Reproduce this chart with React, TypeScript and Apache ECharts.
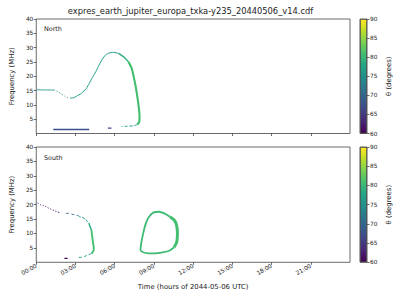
import React, { useEffect, useRef } from "react";
import * as echarts from "echarts";

const TITLE = "expres_earth_jupiter_europa_txka-y235_20440506_v14.cdf";
const X_LABEL = "Time (hours of 2044-05-06 UTC)";
const Y_LABEL = "Frequency (MHz)";
const CBAR_LABEL = "θ (degrees)";
const PANEL_NAMES = ["North", "South"];

const HOUR_TICKS = [0, 3, 6, 9, 12, 15, 18, 21];
const FREQ_TICKS = [5, 10, 15, 20, 25, 30, 35, 40];
const THETA_MIN = 60;
const THETA_MAX = 90;

// North hemisphere: [hour, frequency MHz]
const northFlat = [[0, 15.3], [0.7, 15.2], [1.35, 15.2]];
const northDots = [[1.35, 15.2], [1.55, 14.8], [1.73, 14.35], [1.93, 13.75], [2.18, 13.05], [2.42, 12.46], [2.63, 12.35]];
const northRise = [[2.63, 12.35], [2.85, 12.5], [3.08, 13.05], [3.45, 14.0], [3.83, 15.75], [4.05, 17.5], [4.3, 19.6], [4.55, 21.56], [4.8, 23.9], [5.05, 26.0], [5.3, 27.4], [5.55, 28.1], [5.93, 28.35], [6.3, 28.0]];
const northTurn = [[6.3, 28.0], [6.68, 26.8], [7.05, 25.06]];
const northFall = [[7.05, 25.06], [7.3, 22.75], [7.48, 19.25], [7.63, 15.75], [7.75, 12.25], [7.85, 8.75], [7.9, 5.8], [7.88, 4.06], [7.73, 3.15]];
const northTail = [[7.73, 3.15], [7.43, 2.66], [6.98, 2.56], [6.53, 2.45]];
const northDash = [[5.48, 1.85], [5.75, 1.85]];
const northLow = [[1.3, 1.4], [4.05, 1.4]];
const northSegments = [northFlat, northDots, northRise, northTurn, northFall, northTail, northDash, northLow];
const northThetas = [76, 76, 77, 79, 81, 76.5, 66, 67.5];

// South hemisphere: [hour, frequency MHz]
const southDots = [[0.1, 20.6], [0.32, 19.96], [0.53, 19.76], [0.7, 19.4], [0.88, 18.92], [1.1, 18.5], [1.35, 18.0], [1.52, 17.68], [1.78, 17.19]];
const southBlue = [[2.27, 16.98], [2.45, 16.98], [2.78, 16.64], [3.02, 16.4], [3.2, 16.2]];
const southTeal = [[3.2, 16.2], [3.32, 15.8], [3.53, 15.6], [3.65, 15.25], [3.77, 15.0], [3.9, 14.07], [4.03, 13.62]];
const southBend = [[4.03, 13.62], [4.07, 12.93], [4.16, 11.9], [4.22, 11.2]];
const southFall = [[4.22, 11.2], [4.28, 8.87], [4.35, 6.59], [4.4, 4.85], [4.35, 3.67], [4.22, 3.05]];
const southTail = [[4.22, 3.05], [4.15, 2.88], [3.98, 2.53], [3.77, 2.18], [3.45, 1.73], [3.23, 1.73]];
const southDash = [[2.15, 1.39], [2.4, 1.39]];
const southLoopLeft = [[10.55, 5.2], [10.18, 4.02], [9.68, 3.47], [9.05, 3.12], [8.55, 3.12], [8.18, 3.47], [7.97, 4.26], [8.05, 7.14], [8.18, 10.05], [8.38, 13.52], [8.63, 15.8], [8.98, 17.33], [9.38, 17.54], [9.8, 16.98], [10.22, 15.8]];
const southLoopRight = [[10.22, 15.8], [10.55, 14.66], [10.73, 12.93], [10.8, 10.05], [10.75, 7.14], [10.55, 5.2]];
const southSegments = [southDots, southBlue, southTeal, southBend, southFall, southTail, southDash, southLoopLeft, southLoopRight];
const southThetas = [60.5, 69, 75, 78, 81, 77, 60.5, 80.5, 81];

// styles (not data)
const northWidths = [0.9, 0.9, 1.0, 1.5, 2.1, 1.0, 1.3, 1.4];
const northDashes: (number[] | null)[] = [null, [1.2, 1.8], null, null, null, [3, 2], null, null];
const southWidths = [1.0, 1.0, 1.0, 1.4, 1.9, 1.0, 1.3, 1.8, 3.0];
const southDashes: (number[] | null)[] = [[1.2, 1.6], [3, 2.5], [3, 1.5], null, null, [3, 2], null, null, null];

const VIRIDIS = ["#440154", "#482576", "#414487", "#355f8d", "#2a788e", "#21918c", "#22a884", "#44bf70", "#7ad151", "#bddf26", "#fde725"];

function hexToRgb(h: string) {
  return [parseInt(h.slice(1, 3), 16), parseInt(h.slice(3, 5), 16), parseInt(h.slice(5, 7), 16)];
}
function viridis(theta: number) {
  let t = (theta - THETA_MIN) / (THETA_MAX - THETA_MIN);
  t = Math.max(0, Math.min(1, t));
  const p = t * (VIRIDIS.length - 1);
  const i = Math.min(VIRIDIS.length - 2, Math.floor(p));
  const f = p - i;
  const a = hexToRgb(VIRIDIS[i]);
  const b = hexToRgb(VIRIDIS[i + 1]);
  const c = a.map((v, k) => Math.round(v + (b[k] - v) * f));
  return `rgb(${c[0]},${c[1]},${c[2]})`;
}

const FONT = "DejaVu Sans";
const TXT = "#222";
const SPINE = "#444";

function pad(v: number) {
  return (v < 10 ? "0" : "") + v + ":00";
}

export default function App() {
  const ref = useRef<HTMLDivElement>(null);
  useEffect(() => {
    if (!ref.current) return;
    const chart = echarts.init(ref.current, undefined, { renderer: "svg" });

    const grids = [
      { left: 31, top: 19, width: 319, height: 114.5 },
      { left: 31, top: 147, width: 319, height: 115.3 },
      { left: 360, top: 19, width: 7, height: 114.5 },
      { left: 360, top: 147, width: 7, height: 115.3 },
    ].map((g) => ({ ...g, show: true, borderColor: SPINE, borderWidth: 0.8, backgroundColor: "transparent" }));

    const mainX = (idx: number) => ({
      gridIndex: idx,
      type: "value",
      min: 0,
      max: 24,
      interval: 3,
      axisLine: { show: false },
      splitLine: { show: false },
      axisTick: { show: true, length: 2.5, customValues: HOUR_TICKS, lineStyle: { color: SPINE, width: 0.8 } },
      axisLabel: {
        show: idx === 1,
        customValues: HOUR_TICKS,
        formatter: (v: number) => pad(v),
        rotate: 30,
        fontSize: 5.8,
        fontFamily: FONT,
        color: TXT,
        margin: 3,
      },
      name: idx === 1 ? X_LABEL : "",
      nameLocation: "middle",
      nameGap: 21,
      nameTextStyle: { fontSize: 6.9, fontFamily: FONT, color: TXT },
    });

    const mainY = (idx: number) => ({
      gridIndex: idx,
      type: "value",
      min: 0,
      max: 40,
      interval: 5,
      axisLine: { show: false },
      splitLine: { show: false },
      axisTick: { show: true, length: 2.5, customValues: FREQ_TICKS, lineStyle: { color: SPINE, width: 0.8 } },
      axisLabel: { customValues: FREQ_TICKS, fontSize: 5.8, fontFamily: FONT, color: TXT, margin: 3 },
      name: Y_LABEL,
      nameLocation: "middle",
      nameRotate: 90,
      nameGap: 15,
      nameTextStyle: { fontSize: 6.9, fontFamily: FONT, color: TXT },
    });

    const cbarX = (idx: number) => ({ gridIndex: idx, type: "category", data: ["θ"], show: false });
    const cbarY = (idx: number) => ({
      gridIndex: idx,
      type: "value",
      position: "right",
      min: THETA_MIN,
      max: THETA_MAX,
      interval: 5,
      axisLine: { show: false },
      splitLine: { show: false },
      axisTick: { show: true, length: 2.5, lineStyle: { color: SPINE, width: 0.8 } },
      axisLabel: { fontSize: 5.8, fontFamily: FONT, color: TXT, margin: 3 },
      name: CBAR_LABEL,
      nameLocation: "middle",
      nameRotate: 90,
      nameGap: 18,
      nameTextStyle: { fontSize: 6.9, fontFamily: FONT, color: TXT },
    });

    const gradient = {
      type: "linear",
      x: 0,
      y: 1,
      x2: 0,
      y2: 0,
      colorStops: VIRIDIS.map((c, i) => ({ offset: i / (VIRIDIS.length - 1), color: c })),
    };

    const series: any[] = [];
    const addSegments = (segs: number[][][], thetas: number[], widths: number[], dashes: (number[] | null)[], idx: number) => {
      segs.forEach((data, i) => {
        series.push({
          type: "line",
          xAxisIndex: idx,
          yAxisIndex: idx,
          data,
          symbol: "none",
          smooth: 0.2,
          silent: true,
          z: 3,
          lineStyle: { color: viridis(thetas[i]), width: widths[i], type: dashes[i] ? dashes[i] : "solid", cap: "butt" },
        });
      });
    };
    addSegments(northSegments, northThetas, northWidths, northDashes, 0);
    addSegments(southSegments, southThetas, southWidths, southDashes, 1);

    [2, 3].forEach((idx) => {
      series.push({
        type: "bar",
        xAxisIndex: idx,
        yAxisIndex: idx,
        stack: "cb" + idx,
        data: [THETA_MIN],
        barWidth: "100%",
        itemStyle: { color: "transparent" },
        silent: true,
      });
      series.push({
        type: "bar",
        xAxisIndex: idx,
        yAxisIndex: idx,
        stack: "cb" + idx,
        data: [THETA_MAX - THETA_MIN],
        barWidth: "100%",
        itemStyle: { color: gradient, borderColor: SPINE, borderWidth: 0.8 },
        silent: true,
      });
    });

    chart.setOption({
      animation: false,
      backgroundColor: "#fff",
      grid: grids,
      xAxis: [mainX(0), mainX(1), cbarX(2), cbarX(3)],
      yAxis: [mainY(0), mainY(1), cbarY(2), cbarY(3)],
      series,
      graphic: [
        {
          type: "text",
          x: 190.5,
          y: 11,
          style: { text: TITLE, fontSize: 8.3, fontFamily: FONT, fill: TXT, align: "center", verticalAlign: "middle" },
        },
        {
          type: "text",
          x: 44,
          y: 29,
          style: { text: PANEL_NAMES[0], fontSize: 6.4, fontFamily: FONT, fill: TXT, align: "left", verticalAlign: "middle" },
        },
        {
          type: "text",
          x: 44,
          y: 158,
          style: { text: PANEL_NAMES[1], fontSize: 6.4, fontFamily: FONT, fill: TXT, align: "left", verticalAlign: "middle" },
        },
      ],
    });
    return () => chart.dispose();
  }, []);
  return <div ref={ref} style={{ width: 400, height: 300, position: "absolute", left: 0, top: 0 }} />;
}
